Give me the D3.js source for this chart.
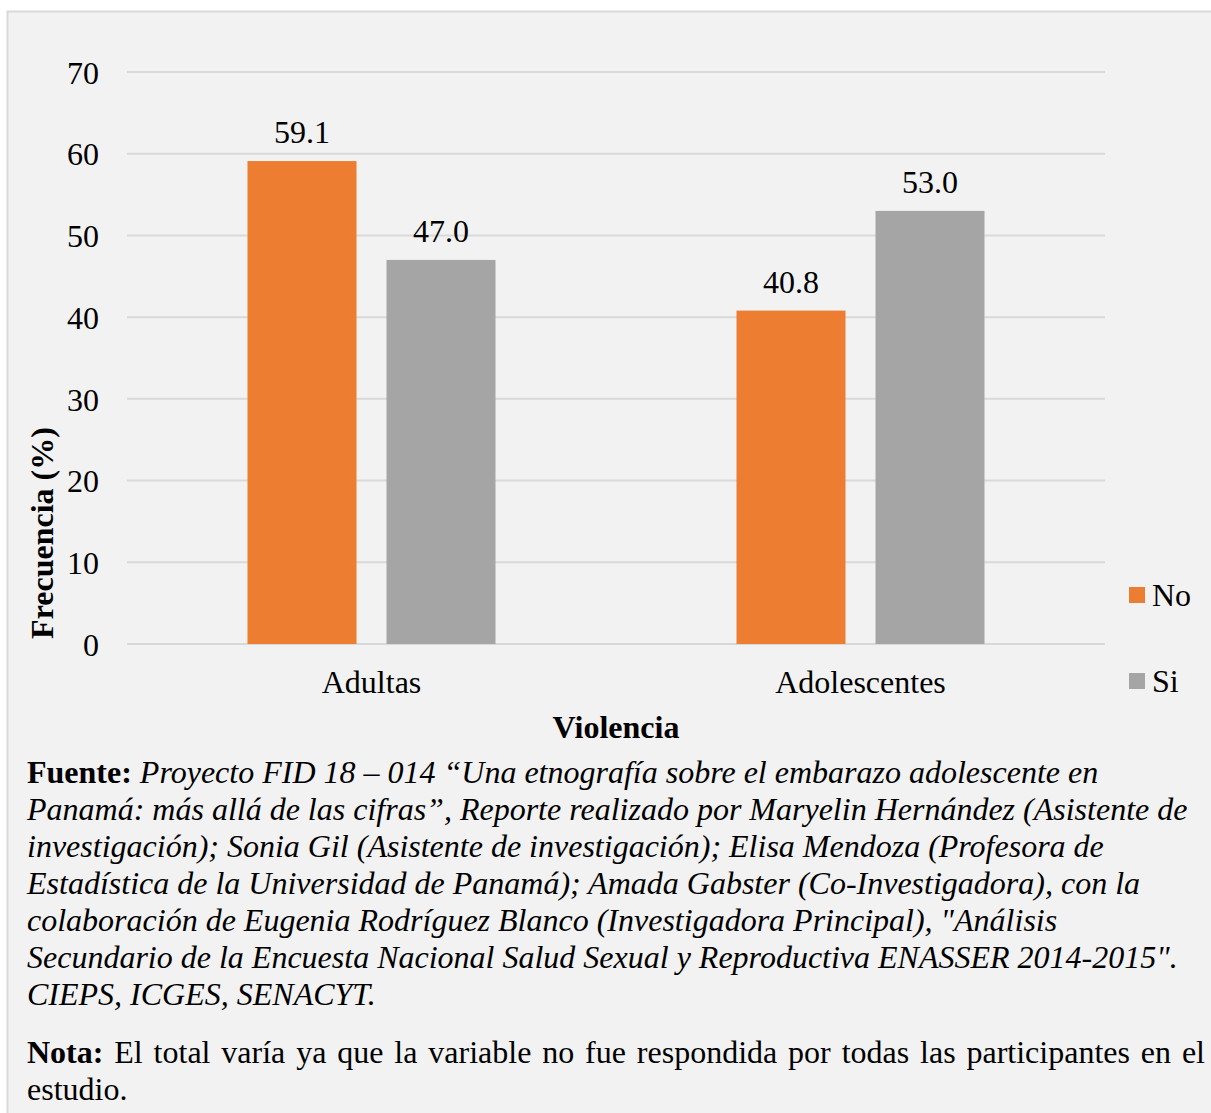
<!DOCTYPE html>
<meta charset="utf-8">
<style>
  body { margin: 0; background: #fff; }
  text { font-family: "Liberation Serif", "Times New Roman", serif; fill: #000; }
</style>
<body>
  <div id="bar_chart"></div>
  <script src="https://d3js.org/d3.v7.min.js"></script>
  <script>
    // data
    var categories = ["Adultas", "Adolescentes"];
    var seriesNames = ["No", "Si"];
    var seriesNo = [59.1, 40.8];
    var seriesSi = [47.0, 53.0];
    var yTicks = [0, 10, 20, 30, 40, 50, 60, 70];

    var fuenteLines = [
      "Proyecto FID 18 \u2013 014 \u201cUna etnograf\u00eda sobre el embarazo adolescente en",
      "Panam\u00e1: m\u00e1s all\u00e1 de las cifras\u201d, Reporte realizado por Maryelin Hern\u00e1ndez (Asistente de",
      "investigaci\u00f3n); Sonia Gil (Asistente de investigaci\u00f3n); Elisa Mendoza (Profesora de",
      "Estad\u00edstica de la Universidad de Panam\u00e1); Amada Gabster (Co-Investigadora), con la",
      "colaboraci\u00f3n de Eugenia Rodr\u00edguez Blanco (Investigadora Principal), \"An\u00e1lisis",
      "Secundario de la Encuesta Nacional Salud Sexual y Reproductiva ENASSER 2014-2015\".",
      "CIEPS, ICGES, SENACYT."
    ];
    var notaLines = [
      "El total var\u00eda ya que la variable no fue respondida por todas las participantes en el",
      "estudio."
    ];

    var colors = { "No": "#ED7D31", "Si": "#A5A5A5" };

    var data = categories.map(function(c, i) {
      return { name: c, values: [
        { key: "No", value: seriesNo[i] },
        { key: "Si", value: seriesSi[i] }
      ] };
    });

    var W = 1211, H = 1113;
    var plot = { left: 127, right: 1105, top: 72, bottom: 644 };

    var svg = d3.select("#bar_chart")
      .append("svg")
      .attr("width", W)
      .attr("height", H);

    // chart frame
    svg.append("rect")
      .attr("x", 7.5).attr("y", 11.5)
      .attr("width", W + 10).attr("height", H + 10)
      .style("fill", "#f2f2f2")
      .style("stroke", "#d9d9d9")
      .style("stroke-width", 2);

    var x0 = d3.scaleBand()
      .domain(categories)
      .range([plot.left, plot.right]);

    var x1 = d3.scaleBand()
      .domain(seriesNames)
      .range([120.5, 368.5])
      .paddingInner(30 / 139);

    var y = d3.scaleLinear()
      .domain([0, 70])
      .range([plot.bottom, plot.top]);

    // gridlines
    svg.append("g")
      .selectAll("line")
      .data(yTicks)
      .enter().append("line")
      .attr("x1", plot.left).attr("x2", plot.right)
      .attr("y1", function(d) { return y(d); })
      .attr("y2", function(d) { return y(d); })
      .style("stroke", "#d9d9d9")
      .style("stroke-width", 2);

    // y axis labels
    var yAxis = svg.append("g")
      .attr("transform", "translate(" + plot.left + ",0)")
      .call(d3.axisLeft(y).tickValues(yTicks).tickSize(0).tickPadding(28));
    yAxis.select(".domain").remove();
    yAxis.selectAll("text")
      .style("font-family", "Liberation Serif")
      .style("font-size", "32px")
      .attr("dy", "0.35em");

    // x axis labels
    var xAxis = svg.append("g")
      .attr("transform", "translate(0," + plot.bottom + ")")
      .call(d3.axisBottom(x0).tickSize(0).tickPadding(26));
    xAxis.select(".domain").remove();
    xAxis.selectAll("text")
      .style("font-family", "Liberation Serif")
      .style("font-size", "32px");

    // bars
    var groups = svg.selectAll(".cat")
      .data(data)
      .enter().append("g")
      .attr("class", "cat")
      .attr("transform", function(d) { return "translate(" + x0(d.name) + ",0)"; });

    groups.selectAll("rect")
      .data(function(d) { return d.values; })
      .enter().append("rect")
      .attr("x", function(d) { return x1(d.key); })
      .attr("y", function(d) { return y(d.value); })
      .attr("width", x1.bandwidth())
      .attr("height", function(d) { return y(0) - y(d.value); })
      .style("fill", function(d) { return colors[d.key]; });

    groups.selectAll(".lbl")
      .data(function(d) { return d.values; })
      .enter().append("text")
      .attr("class", "lbl")
      .attr("x", function(d) { return x1(d.key) + x1.bandwidth() / 2; })
      .attr("y", function(d) { return y(d.value) - 18; })
      .attr("text-anchor", "middle")
      .style("font-size", "32px")
      .text(function(d) { return d.value.toFixed(1); });

    // axis titles
    svg.append("text")
      .attr("x", (plot.left + plot.right) / 2)
      .attr("y", 738)
      .attr("text-anchor", "middle")
      .style("font-size", "32px")
      .style("font-weight", "bold")
      .text("Violencia");

    svg.append("text")
      .attr("transform", "translate(53,533) rotate(-90)")
      .attr("text-anchor", "middle")
      .style("font-size", "32px")
      .style("font-weight", "bold")
      .text("Frecuencia (%)");

    // legend
    var legend = svg.selectAll(".legend")
      .data(seriesNames)
      .enter().append("g")
      .attr("class", "legend")
      .attr("transform", function(d, i) { return "translate(1129," + (587 + i * 86) + ")"; });
    legend.append("rect")
      .attr("width", 16).attr("height", 16)
      .style("fill", function(d) { return colors[d]; });
    legend.append("text")
      .attr("x", 23).attr("y", 8)
      .attr("dy", "0.35em")
      .style("font-size", "32px")
      .text(function(d) { return d; });

    // source note
    var noteSize = 32, lineH = 37, left = 27;
    var fuente = svg.append("g");
    fuenteLines.forEach(function(line, i) {
      var t = fuente.append("text")
        .attr("x", left)
        .attr("y", 783 + i * lineH)
        .style("font-size", noteSize + "px");
      if (i === 0) {
        t.append("tspan").style("font-weight", "bold").text("Fuente: ");
      }
      t.append("tspan").style("font-style", "italic").text(line);
    });

    // nota, first line justified to the right edge
    var notaY = 1063;
    var words = notaLines[0].split(" ");
    var first = svg.append("text")
      .attr("x", left).attr("y", notaY)
      .style("font-size", noteSize + "px");
    first.append("tspan").style("font-weight", "bold").text("Nota:");
    words.forEach(function(w) {
      first.append("tspan").text(" " + w);
    });
    var natural = first.node().getComputedTextLength();
    var extra = Math.max(0, (1205 - left - natural) / words.length);
    first.selectAll("tspan").filter(function(d, i) { return i > 0; })
      .attr("dx", extra);

    svg.append("text")
      .attr("x", left).attr("y", notaY + lineH)
      .style("font-size", noteSize + "px")
      .text(notaLines[1]);
  </script>
</body>
